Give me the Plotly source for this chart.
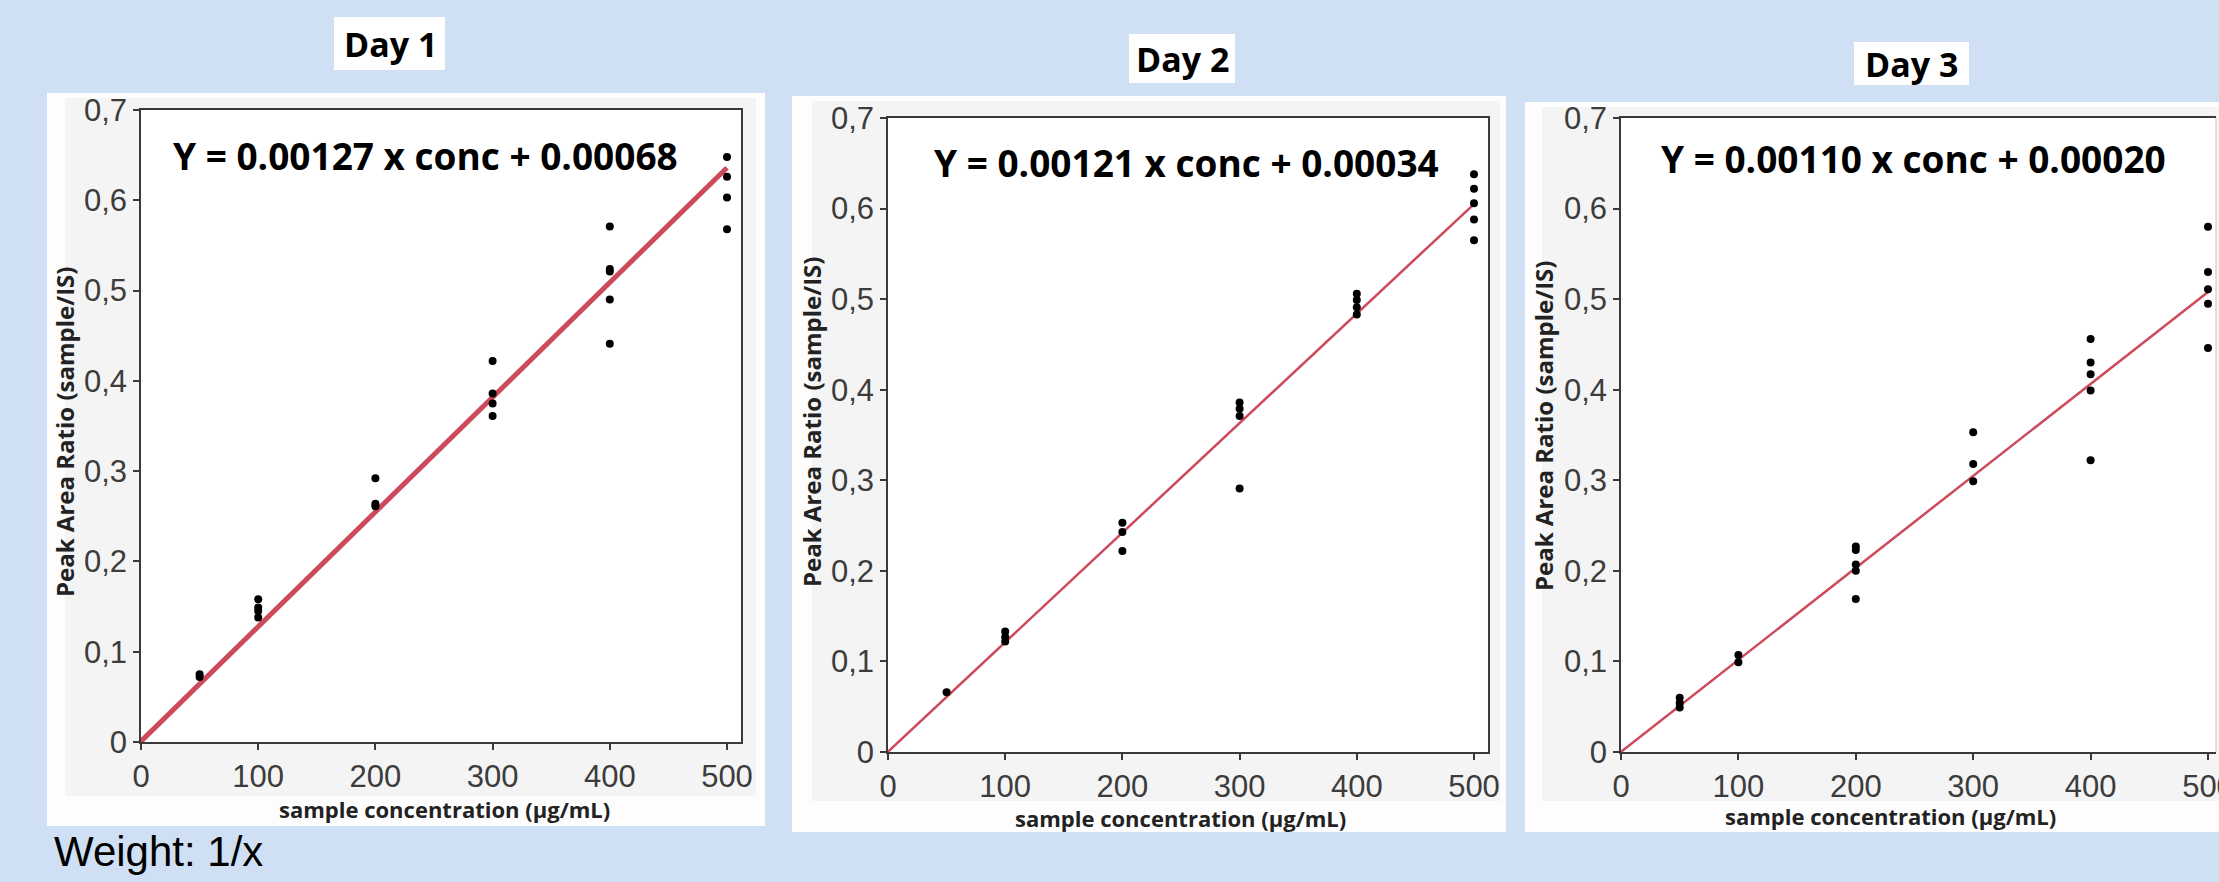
import plotly.graph_objects as go

W, H = 2219, 882

# ---------------- data ----------------
day_titles = ["Day 1", "Day 2", "Day 3"]
equations = ["Y = 0.00127 x conc + 0.00068",
             "Y = 0.00121 x conc + 0.00034",
             "Y = 0.00110 x conc + 0.00020"]

# fitted line as drawn in the picture (value at conc 0 and conc 500)
fit_x = [0, 500]
fit_y_day1 = [0.0007, 0.636]
fit_y_day2 = [0.0003, 0.605]
fit_y_day3 = [0.0002, 0.508]

day1_conc = [50, 50, 100, 100, 100, 100, 200, 200, 200, 300, 300, 300, 300,
             400, 400, 400, 400, 400, 500, 500, 500, 500]
day1_ratio = [0.075, 0.072, 0.158, 0.149, 0.145, 0.138, 0.292, 0.264, 0.261,
              0.422, 0.386, 0.375, 0.361, 0.571, 0.524, 0.521, 0.490, 0.441,
              0.648, 0.626, 0.603, 0.568]

day2_conc = [50, 100, 100, 100, 200, 200, 200, 300, 300, 300, 300,
             400, 400, 400, 400, 500, 500, 500, 500, 500]
day2_ratio = [0.066, 0.133, 0.127, 0.122, 0.253, 0.243, 0.222, 0.386, 0.379,
              0.371, 0.291, 0.506, 0.499, 0.491, 0.483, 0.638, 0.622, 0.606,
              0.588, 0.565]

day3_conc = [50, 50, 50, 100, 100, 200, 200, 200, 200, 200, 300, 300, 300,
             400, 400, 400, 400, 400, 500, 500, 500, 500, 500]
day3_ratio = [0.060, 0.054, 0.049, 0.107, 0.099, 0.227, 0.223, 0.207, 0.200,
              0.169, 0.353, 0.318, 0.299, 0.456, 0.430, 0.417, 0.399, 0.322,
              0.580, 0.530, 0.511, 0.495, 0.446]

x_ticks = [0, 100, 200, 300, 400, 500]
y_ticks = [0, 0.1, 0.2, 0.3, 0.4, 0.5, 0.6, 0.7]
y_ticktext = ["0", "0,1", "0,2", "0,3", "0,4", "0,5", "0,6", "0,7"]

x_title = "sample concentration (µg/mL)"
y_title = "Peak Area Ratio (sample/IS)"
weight_note = "Weight: 1/x"

# ---------------- layout geometry (pixels) ----------------
panels = [
    dict(box=(47, 93, 765, 826), gray=(65, 98, 756, 796), plot=(141, 110, 741, 742), x500=727,
         title_c=(390, 44), title_box=(334, 17, 445, 70), eq_c=(425, 155), xt_c=(444, 809),
         yt_c=(64, 432), lw=5, mirror_y=True),
    dict(box=(792, 96, 1506, 832), gray=(812, 101, 1500, 801), plot=(888, 118, 1488, 752), x500=1474,
         title_c=(1182, 59), title_box=(1129, 34, 1235, 83), eq_c=(1186, 163), xt_c=(1180, 818),
         yt_c=(811, 422), lw=2.5, mirror_y=True),
    dict(box=(1525, 102, 2230, 832), gray=(1542, 107, 2230, 801), plot=(1621, 118, 2216, 752), x500=2208,
         title_c=(1911, 64), title_box=(1854, 42, 1969, 85), eq_c=(1913, 159), xt_c=(1890, 816),
         yt_c=(1543, 426), lw=2.5, mirror_y=False),
]

def fx(px):
    return px / W

def fy(py):
    return 1 - py / H

datasets = [(day1_conc, day1_ratio, fit_y_day1),
            (day2_conc, day2_ratio, fit_y_day2),
            (day3_conc, day3_ratio, fit_y_day3)]

fig = go.Figure()
shapes = []
annotations = []
tick_font = dict(family="Liberation Sans, Arial", size=31, color="#3c3c3c")
bold_font = "Open Sans, Noto Sans, sans-serif"

for i, p in enumerate(panels):
    n = "" if i == 0 else str(i + 1)
    xa, ya = "x" + n, "y" + n
    conc, ratio, fit_y = datasets[i]
    fig.add_trace(go.Scatter(
        x=fit_x, y=fit_y,
        mode="lines", line=dict(color="#cc4a5c", width=p["lw"]),
        xaxis=xa, yaxis=ya, showlegend=False, hoverinfo="skip"))
    fig.add_trace(go.Scatter(
        x=conc, y=ratio, mode="markers",
        marker=dict(color="black", size=8),
        xaxis=xa, yaxis=ya, showlegend=False))

    x0, y0, x1, y1 = p["plot"]
    xmax = 500 * (x1 - x0) / (p["x500"] - x0)
    axis_common = dict(showgrid=False, zeroline=False, showline=True, linecolor="#3a3a3a",
                       linewidth=1.5, ticks="outside", ticklen=6, tickcolor="#3a3a3a",
                       tickwidth=1.5, tickfont=tick_font, ticklabeloverflow="allow",
                       automargin=False)
    fig.update_layout({
        "xaxis" + n: dict(domain=[fx(x0), fx(x1)], range=[0, xmax], anchor=ya,
                          tickvals=x_ticks, ticktext=[str(v) for v in x_ticks],
                          mirror=True, fixedrange=True, **axis_common),
        "yaxis" + n: dict(domain=[fy(y1), fy(y0)], range=[0, 0.7], anchor=xa,
                          tickvals=y_ticks, ticktext=y_ticktext,
                          mirror=p["mirror_y"], fixedrange=True, **axis_common),
    })

    bx0, by0, bx1, by1 = p["box"]
    shapes.append(dict(type="rect", xref="paper", yref="paper", layer="below",
                       x0=fx(bx0), x1=fx(bx1), y0=fy(by1), y1=fy(by0),
                       fillcolor="#fdfdfd", line=dict(width=0)))
    gx0, gy0, gx1, gy1 = p["gray"]
    shapes.append(dict(type="rect", xref="paper", yref="paper", layer="below",
                       x0=fx(gx0), x1=fx(gx1), y0=fy(gy1), y1=fy(gy0),
                       fillcolor="#f4f4f4", line=dict(width=0)))
    shapes.append(dict(type="rect", xref="paper", yref="paper", layer="below",
                       x0=fx(x0), x1=fx(x1), y0=fy(y1), y1=fy(y0),
                       fillcolor="white", line=dict(width=0)))
    if not p["mirror_y"]:
        shapes.append(dict(type="line", xref="paper", yref="paper",
                           x0=fx(x1), x1=fx(x1), y0=fy(y1), y1=fy(y0),
                           line=dict(color="#d8d8d8", width=1.5)))
    tx0, ty0, tx1, ty1 = p["title_box"]
    shapes.append(dict(type="rect", xref="paper", yref="paper", layer="below",
                       x0=fx(tx0), x1=fx(tx1), y0=fy(ty1), y1=fy(ty0),
                       fillcolor="white", line=dict(width=0)))

    annotations.append(dict(xref="paper", yref="paper", x=fx(p["title_c"][0]), y=fy(p["title_c"][1]),
                            text="<b>" + day_titles[i] + "</b>", showarrow=False,
                            font=dict(family=bold_font, size=34, color="black"),
                            xanchor="center", yanchor="middle"))
    annotations.append(dict(xref="paper", yref="paper", x=fx(p["eq_c"][0]), y=fy(p["eq_c"][1]),
                            text="<b>" + equations[i] + "</b>", showarrow=False,
                            font=dict(family=bold_font, size=37, color="black"),
                            xanchor="center", yanchor="middle"))
    annotations.append(dict(xref="paper", yref="paper", x=fx(p["xt_c"][0]), y=fy(p["xt_c"][1]),
                            text="<b>" + x_title + "</b>", showarrow=False,
                            font=dict(family=bold_font, size=22, color="#222222"),
                            xanchor="center", yanchor="middle"))
    annotations.append(dict(xref="paper", yref="paper", x=fx(p["yt_c"][0]), y=fy(p["yt_c"][1]),
                            text="<b>" + y_title + "</b>", showarrow=False, textangle=-90,
                            font=dict(family=bold_font, size=24, color="#222222"),
                            xanchor="center", yanchor="middle"))

annotations.append(dict(xref="paper", yref="paper", x=fx(52), y=fy(851),
                        text=weight_note, showarrow=False,
                        font=dict(family="Liberation Sans, Arial", size=42, color="black"),
                        xanchor="left", yanchor="middle"))

fig.update_layout(
    width=W, height=H, margin=dict(l=0, r=0, t=0, b=0, pad=0, autoexpand=False),
    paper_bgcolor="#cfe0f4", plot_bgcolor="rgba(0,0,0,0)",
    shapes=shapes, annotations=annotations, showlegend=False,
)

fig.write_html("out.html", config={"displayModeBar": False},
               post_script="document.body.style.margin='0px';document.body.style.overflow='hidden';")
